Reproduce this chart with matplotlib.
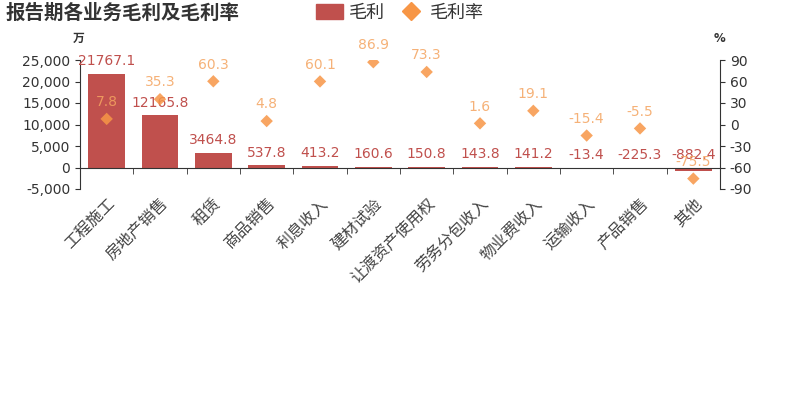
import numpy as np
import matplotlib.pyplot as plt
from matplotlib.lines import Line2D
from matplotlib.patches import FancyBboxPatch

plt.rcParams['font.family'] = ['DejaVu Sans', 'Noto Sans CJK SC']

# 数据
categories = ["工程施工", "房地产销售", "租赁", "商品销售", "利息收入", "建材试验",
              "让渡资产使用权", "劳务分包收入", "物业费收入", "运输收入", "产品销售", "其他"]
gross_profit = [21767.1, 12165.8, 3464.8, 537.8, 413.2, 160.6,
                150.8, 143.8, 141.2, -13.4, -225.3, -882.4]
gross_margin = [7.8, 35.3, 60.3, 4.8, 60.1, 86.9,
                73.3, 1.6, 19.1, -15.4, -5.5, -75.5]
left_ticks = [-5000, 0, 5000, 10000, 15000, 20000, 25000]
right_ticks = [-90, -60, -30, 0, 30, 60, 90]

bar_color = '#c0504d'
dot_color = '#f79646'
text_color = '#333333'

fig = plt.figure(figsize=(8, 4), dpi=100)
ax = fig.add_axes([0.1, 0.5275, 0.8, 0.3225])
ax2 = ax.twinx()

x = np.arange(len(categories))

# 坐标轴设置 (先移动底部轴线, 再设置刻度)
for s in ['top', 'right']:
    ax.spines[s].set_visible(False)
ax.spines['bottom'].set_position(('data', 0))
ax.spines['left'].set_color(text_color)
ax.spines['bottom'].set_color(text_color)

ax.bar(x, gross_profit, width=0.69, color=bar_color, zorder=2)
for xi, v in zip(x, gross_profit):
    ax.annotate(f"{v}", (xi, max(v, 0)), xytext=(0, 4), textcoords='offset points',
                ha='center', va='bottom', fontsize=10, color=bar_color, zorder=3)

ax.set_xlim(-0.5, len(categories) - 0.5)
ax.set_ylim(-5000, 25000)
ax.set_yticks(left_ticks)
ax.set_yticklabels([f"{t:,}" for t in left_ticks], fontsize=10, color=text_color)
ax.set_xticks(x)
ax.set_xticklabels(categories, rotation=45, ha='right', rotation_mode='anchor',
                   fontsize=11.5, color='#444444', family=['Noto Sans CJK SC'],
                   fontweight='light')
ax.tick_params(axis='x', which='major', length=0, pad=20)
ax.set_xticks(np.arange(len(categories) + 1) - 0.5, minor=True)
ax.tick_params(axis='x', which='minor', length=4, direction='out', color=text_color)
ax.tick_params(axis='y', color=text_color)

ax2.set_zorder(ax.get_zorder() + 1)
ax2.patch.set_visible(False)
ax2.scatter(x, gross_margin, marker='D', s=40, color=dot_color, alpha=0.85,
            edgecolors='none', zorder=4)
for xi, v in zip(x, gross_margin):
    ax2.annotate(f"{v}", (xi, v), xytext=(0, 7), textcoords='offset points',
                 ha='center', va='bottom', fontsize=10, color='#f4a460', alpha=0.85)
ax2.set_ylim(-90, 90)
ax2.set_yticks(right_ticks)
ax2.set_yticklabels([str(t) for t in right_ticks], fontsize=10, color=text_color)
ax2.tick_params(axis='y', color=text_color)
for s in ['top', 'left', 'bottom']:
    ax2.spines[s].set_visible(False)
ax2.spines['right'].set_color(text_color)

# 单位
fig.text(0.098, 0.905, "万", fontsize=8.5, fontweight='bold', ha='center', va='center',
         color=text_color, family=['Noto Sans CJK SC'])
fig.text(0.9, 0.905, "%", fontsize=8.5, fontweight='bold', ha='center', va='center',
         color=text_color)

# 标题
fig.text(0.007, 0.968, "报告期各业务毛利及毛利率", fontsize=14, fontweight='bold',
         ha='left', va='center', color=text_color, family=['Noto Sans CJK SC'])

# 图例
handles = [
    FancyBboxPatch((0, 0), 1, 1, boxstyle='round,pad=0.1', color=bar_color),
    Line2D([], [], marker='D', linestyle='none', color=dot_color, markersize=9),
]
fig.legend(handles, ["毛利", "毛利率"], loc='center', bbox_to_anchor=(0.5, 0.968),
           ncol=2, frameon=False, handlelength=1.5, handleheight=0.9,
           handletextpad=0.3, columnspacing=0.7, labelcolor=text_color,
           prop={'family': ['Noto Sans CJK SC'], 'size': 13})

fig.savefig("out.png", dpi=100)
